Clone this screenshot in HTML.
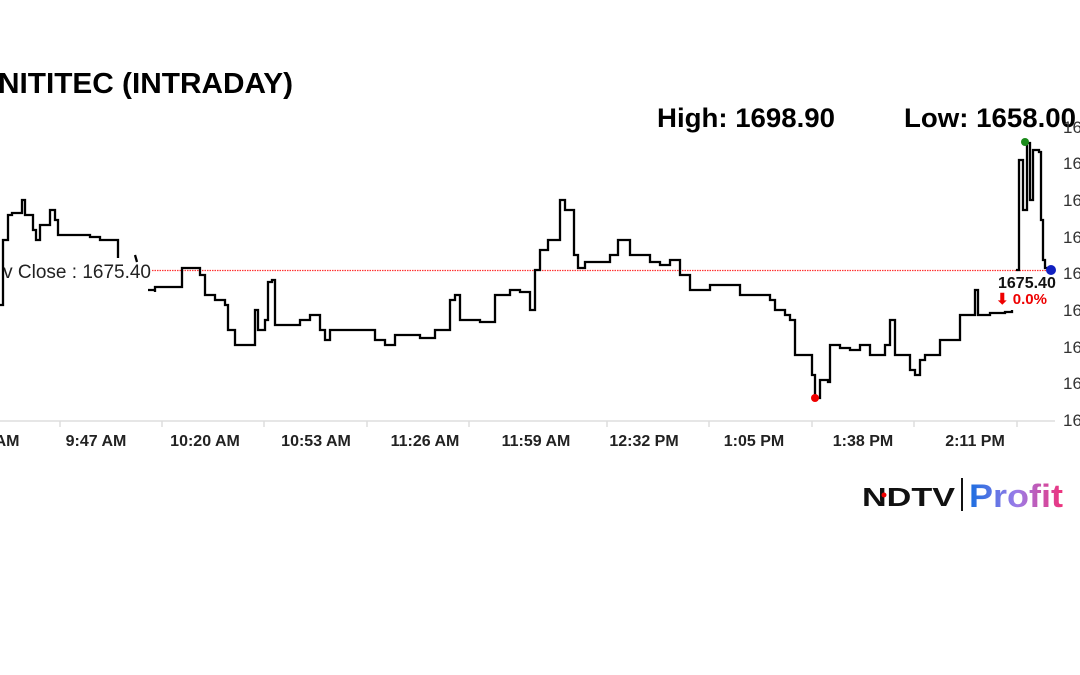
<!DOCTYPE html>
<html><head><meta charset="utf-8"><style>
html,body{margin:0;padding:0;background:#fff;width:1080px;height:675px;overflow:hidden;font-family:"Liberation Sans",Arial,sans-serif;}
</style></head><body>
<svg width="1080" height="675" xmlns="http://www.w3.org/2000/svg" font-family="Liberation Sans, Arial, sans-serif">
<text x="-2" y="93" font-size="29" font-weight="bold" fill="#000" textLength="295" lengthAdjust="spacingAndGlyphs">NITITEC (INTRADAY)</text>
<text x="657" y="127" font-size="27" font-weight="bold" fill="#000" textLength="178" lengthAdjust="spacingAndGlyphs">High: 1698.90</text>
<text x="904" y="127" font-size="27" font-weight="bold" fill="#000" textLength="172" lengthAdjust="spacingAndGlyphs">Low: 1658.00</text>
<g font-size="17" fill="#333">
<text x="1063" y="133">16</text><text x="1063" y="169">16</text><text x="1063" y="206">16</text><text x="1063" y="243">16</text><text x="1063" y="279">16</text><text x="1063" y="316">16</text><text x="1063" y="353">16</text><text x="1063" y="389">16</text><text x="1063" y="426">16</text>
</g>
<line x1="0" y1="421" x2="1055" y2="421" stroke="#ddd" stroke-width="1.5"/>
<g stroke="#ddd" stroke-width="1.5">
<line x1="60" y1="421" x2="60" y2="427"/><line x1="162" y1="421" x2="162" y2="427"/><line x1="264" y1="421" x2="264" y2="427"/><line x1="367" y1="421" x2="367" y2="427"/><line x1="469" y1="421" x2="469" y2="427"/><line x1="607" y1="421" x2="607" y2="427"/><line x1="709" y1="421" x2="709" y2="427"/><line x1="812" y1="421" x2="812" y2="427"/><line x1="914" y1="421" x2="914" y2="427"/><line x1="1017" y1="421" x2="1017" y2="427"/>
</g>
<g font-size="16" font-weight="bold" fill="#222" text-anchor="middle">
<text x="7" y="446">AM</text><text x="96" y="446">9:47 AM</text><text x="205" y="446">10:20 AM</text><text x="316" y="446">10:53 AM</text><text x="425" y="446">11:26 AM</text><text x="536" y="446">11:59 AM</text><text x="644" y="446">12:32 PM</text><text x="754" y="446">1:05 PM</text><text x="863" y="446">1:38 PM</text><text x="975" y="446">2:11 PM</text>
</g>
<line x1="152" y1="270.5" x2="1050" y2="270.5" stroke="#f33" stroke-width="1.2" stroke-dasharray="1.5,1"/>
<text x="151" y="278" font-size="19" fill="#222" text-anchor="end">v Close : 1675.40</text>
<path id="s1" fill="none" stroke="#000" stroke-width="2.3" d=""/>
<path id="s2" fill="none" stroke="#000" stroke-width="2.3" d="M135,255 L137,262"/>
<path id="s3" fill="none" stroke="#000" stroke-width="2.3" d=""/>
<path id="s4" fill="none" stroke="#000" stroke-width="2.3" d=""/>
<circle cx="1025" cy="142" r="4" fill="#1a8a1a"/>
<circle cx="815" cy="398" r="4" fill="#e00"/>
<circle cx="1051" cy="270" r="5" fill="#1020c0"/>
<text x="998" y="288" font-size="16" font-weight="bold" fill="#111">1675.40</text>
<text x="996" y="304" font-size="15" font-weight="bold" fill="#e00">⬇ 0.0%</text>
<g>
<text x="862" y="506" font-size="26" font-weight="bold" fill="#111" textLength="93" lengthAdjust="spacingAndGlyphs">NDTV</text>
<circle cx="884" cy="495" r="2.5" fill="#e00"/>
<line x1="962" y1="478" x2="962" y2="511" stroke="#111" stroke-width="2"/>
<defs><linearGradient id="g" x1="0" x2="1"><stop offset="0" stop-color="#1a6ee0"/><stop offset="0.5" stop-color="#9a7ce8"/><stop offset="1" stop-color="#f0307a"/></linearGradient></defs>
<text x="969" y="507" font-size="32" font-weight="bold" fill="url(#g)" textLength="94" lengthAdjust="spacingAndGlyphs">Profit</text>
</g>
</svg>
<script>
function step(pts){var p=pts.trim().split(/\s+/).map(function(s){return s.split(',').map(Number);});var d='M'+p[0][0]+','+p[0][1];for(var i=1;i<p.length;i++){d+=' H'+p[i][0]+' V'+p[i][1];}return d;}
document.getElementById('s1').setAttribute('d',step("0,305 3,240 8,215 12,213 18,213 22,200 25,215 30,215 33,230 36,240 40,225 45,225 50,210 55,220 58,235 62,235 90,237 100,240 118,240 118,258"));
document.getElementById('s3').setAttribute('d',step("148,290 155,292 155,287 165,287 180,287 182,268 195,268 200,275 205,295 215,300 218,300 225,305 228,330 235,345 250,345 255,310 258,330 265,320 268,282 272,280 275,325 295,325 300,320 310,315 320,330 325,340 330,330 355,330 375,340 385,345 395,335 420,338 435,330 450,300 455,295 460,320 480,322 495,295 510,290 520,292 530,310 535,270 540,250 548,240 555,240 560,200 565,210 570,210 574,255 578,268 585,262 600,262 610,255 618,240 625,240 630,255 650,262 660,265 670,260 680,275 690,290 700,290 710,285 730,285 740,295 760,295 770,300 775,310 785,315 790,320 795,355 808,355 812,375 815,398 820,380 828,382 830,345 840,348 850,350 860,345 870,355 880,355 885,345 890,320 895,355 905,355 910,370 915,375 920,360 925,355 940,340 950,340 960,315 970,315 975,290 978,315 990,313 1005,312 1012,310"));
document.getElementById('s4').setAttribute('d',step("1016,270 1019,160 1023,210 1027,143 1030,200 1033,150 1039,152 1041,220 1043,260 1045,268 1052,268"));
</script>
</body></html>
